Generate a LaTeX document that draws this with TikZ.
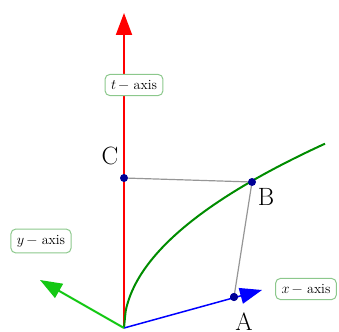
\documentclass[tikz,border=0pt]{standalone}
\usetikzlibrary{arrows.meta}
\definecolor{boxgreen}{RGB}{140,200,140}
\definecolor{axgreen}{RGB}{20,200,20}
\definecolor{curvegreen}{RGB}{0,140,0}
\definecolor{dotblue}{RGB}{0,0,150}
\definecolor{linegray}{RGB}{150,150,150}
\begin{document}
\begin{tikzpicture}[x=1pt,y=-1pt,
  axislabel/.style={draw=boxgreen,line width=1pt,rounded corners=5pt,fill=white,inner xsep=6pt,inner ysep=6pt,font=\fontsize{14}{16}\selectfont},
  ptlabel/.style={font=\fontsize{25}{27}\selectfont},
  pt/.style={circle,fill=dotblue,inner sep=0pt,minimum size=8pt},
  axtip/.style={-{Triangle[length=22pt,width=16pt]}}]
\useasboundingbox (0,0) rectangle (339,331);
\coordinate (O) at (124,328);
\coordinate (T) at (124,13);
\coordinate (X) at (262,290);
\coordinate (Y) at (40,280);
% t axis
\draw[red,line width=2pt,axtip] (O) -- (T);
\node[axislabel] (tl) at (134,85) {$t$\,{\char"2212} axis};
% curve
\draw[curvegreen,line width=2pt] plot[domain=0:201,samples=120,smooth] ({124+\x},{328-13*sqrt(\x)});
% gray lines
\node[pt] (C) at (124,178) {};
\node[pt] (B) at (252,182) {};
\node[pt] (A) at (234,297) {};
\draw[linegray,line width=1.2pt] (C) -- (B) -- (A);
% x, y axes
\draw[blue,line width=1.5pt,axtip] (O) -- (X);
\draw[axgreen,line width=2pt,axtip] (O) -- (Y);
\node[pt] at (A) {};
\node[axislabel] (xl) at (306,289) {$x$\,{\char"2212} axis};
\node[axislabel] (yl) at (41,241) {$y$\,{\char"2212} axis};
\node[ptlabel] (Cl) at (110,156) {C};
\node[ptlabel] (Bl) at (266,197) {B};
\node[ptlabel] (Al) at (244,322) {A};
\end{tikzpicture}
\end{document}
